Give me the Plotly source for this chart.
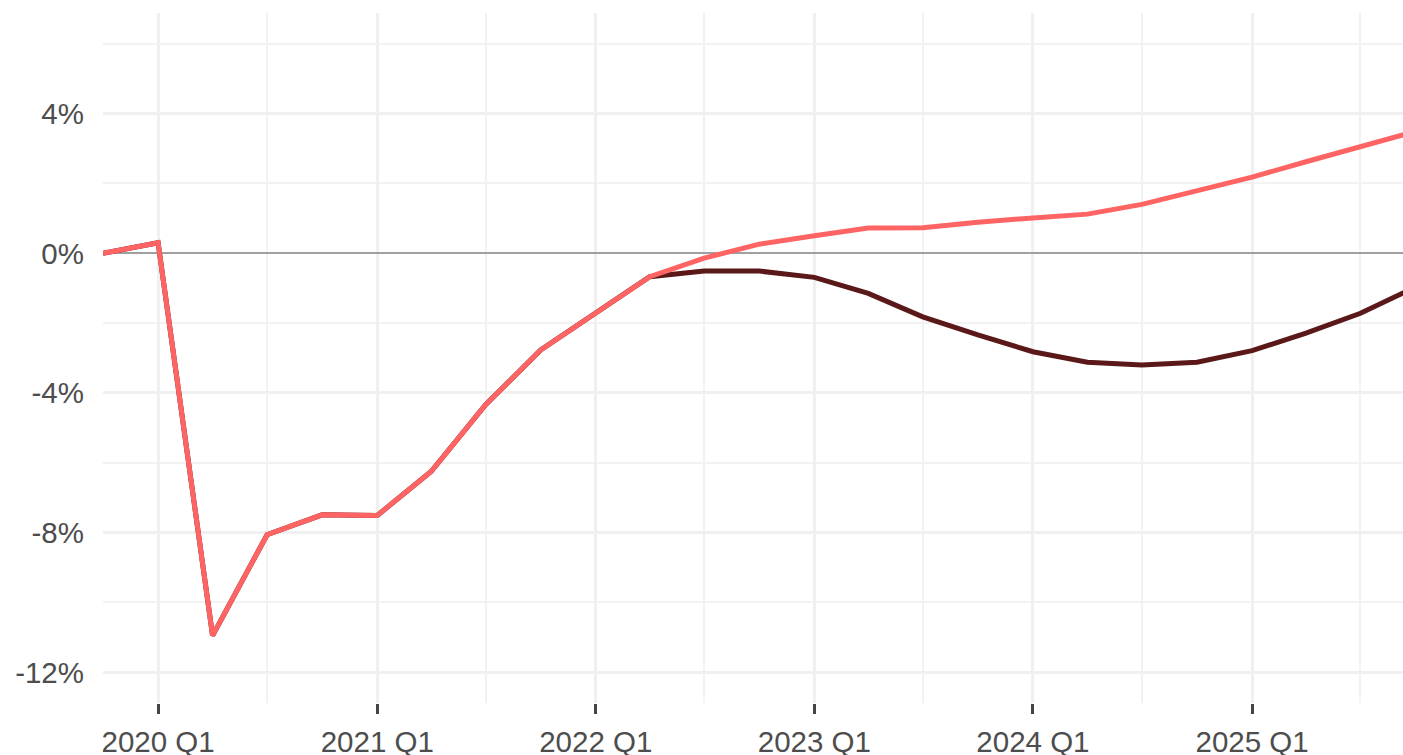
import plotly.graph_objects as go

quarters = ["2019-10-01", "2020-01-01", "2020-04-01", "2020-07-01", "2020-10-01",
            "2021-01-01", "2021-04-01", "2021-07-01", "2021-10-01",
            "2022-01-01", "2022-04-01", "2022-07-01", "2022-10-01",
            "2023-01-01", "2023-04-01", "2023-07-01", "2023-10-01",
            "2024-01-01", "2024-04-01", "2024-07-01", "2024-10-01",
            "2025-01-01", "2025-04-01", "2025-07-01", "2025-10-01"]

# Light red series (pre-crisis trend)
series_trend = [0.0, 0.30, -10.95, -8.06, -7.49,
                -7.51, -6.25, -4.34, -2.77,
                -1.72, -0.67, -0.14, 0.26,
                0.50, 0.72, 0.73, 0.89,
                1.01, 1.12, 1.40, 1.79,
                2.18, 2.62, 3.05, 3.49]

# Dark red series (actual)
series_actual = [0.0, 0.30, -10.95, -8.06, -7.49,
                 -7.51, -6.25, -4.34, -2.77,
                 -1.72, -0.67, -0.51, -0.51,
                 -0.69, -1.15, -1.82, -2.34,
                 -2.82, -3.12, -3.20, -3.12,
                 -2.79, -2.29, -1.72, -0.97]

x_tick_vals = ["2020-01-01", "2021-01-01", "2022-01-01", "2023-01-01", "2024-01-01", "2025-01-01"]
x_tick_text = ["2020 Q1", "2021 Q1", "2022 Q1", "2023 Q1", "2024 Q1", "2025 Q1"]
x_minor_vals = ["2019-07-01", "2020-07-01", "2021-07-01", "2022-07-01", "2023-07-01", "2024-07-01", "2025-07-01"]

y_tick_vals = [-12, -8, -4, 0, 4]
y_tick_text = ["-12%", "-8%", "-4%", "0%", "4%"]
y_minor_vals = [-10, -6, -2, 2, 6]

fig = go.Figure()
fig.add_trace(go.Scatter(x=quarters, y=series_actual, mode="lines",
                         line=dict(color="#5A1818", width=5), name="actual"))
fig.add_trace(go.Scatter(x=quarters, y=series_trend, mode="lines",
                         line=dict(color="#FF6464", width=5), name="trend"))

font = dict(family="Liberation Sans, Arial, sans-serif", size=29.5, color="#4D4D4D")

fig.update_layout(
    width=1403, height=755,
    margin=dict(l=103, r=0, t=13, b=52, autoexpand=False),
    paper_bgcolor="white", plot_bgcolor="white",
    showlegend=False,
    font=font,
    xaxis=dict(
        type="date", automargin=False,
        range=["2019-10-01", "2025-09-10"],
        tickmode="array", tickvals=x_tick_vals, ticktext=x_tick_text,
        ticks="outside", ticklen=10, tickwidth=2.5, tickcolor="#444444",
        ticklabelstandoff=3,
        showgrid=True, gridcolor="#F0F0F0", gridwidth=2.5,
        minor=dict(tickmode="array", tickvals=x_minor_vals, showgrid=True,
                   gridcolor="#F2F2F2", gridwidth=1.5, ticks=""),
        zeroline=False, showline=False, tickfont=font,
    ),
    yaxis=dict(
        automargin=False,
        range=[-12.88, 6.88],
        tickmode="array", tickvals=y_tick_vals, ticktext=y_tick_text,
        ticks="", ticklabelstandoff=18,
        showgrid=True, gridcolor="#F0F0F0", gridwidth=2.5,
        minor=dict(tickmode="array", tickvals=y_minor_vals, showgrid=True,
                   gridcolor="#F2F2F2", gridwidth=1.5, ticks=""),
        zeroline=True, zerolinecolor="#A0A0A0", zerolinewidth=1.5,
        showline=False, tickfont=font,
    ),
)

fig.write_html(
    "out.html",
    config={"displayModeBar": False},
    post_script="document.body.style.margin='0';document.body.style.overflow='hidden';",
)
